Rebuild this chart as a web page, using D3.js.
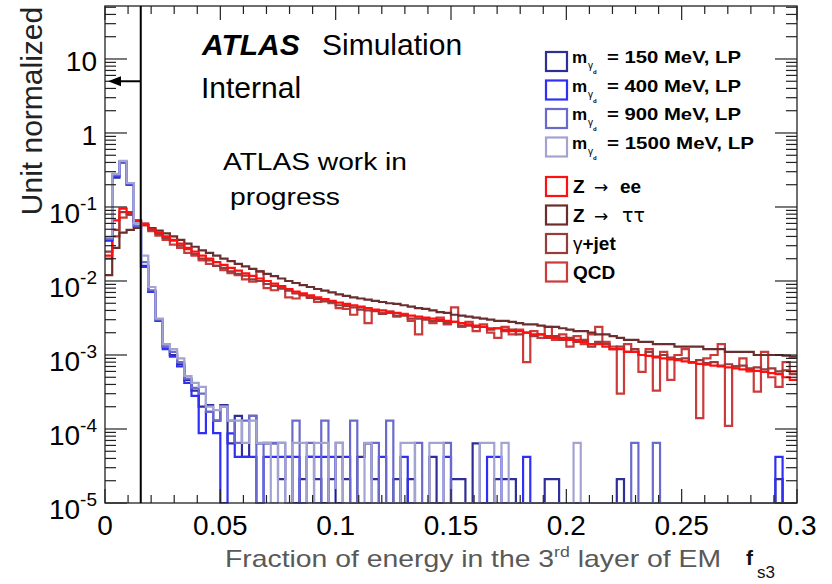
<!DOCTYPE html>
<html>
<head>
<meta charset="utf-8">
<script src="https://cdn.jsdelivr.net/npm/d3@7"></script>
<style>
  body { margin: 0; background: #fff; }
  svg { display: block; }
  text { font-family: "Liberation Sans", Arial, Helvetica, sans-serif; }
</style>
</head>
<body>
<svg id="chart" width="832" height="584"></svg>
<script>
// binning: 96 bins of 0.003125 between 0 and 0.3
const binWidth = 0.003125;

// signal samples (unit normalized), one value per bin
const sig150 = [0.035, 0.25, 0.40, 0.20, 0.055, 0.016, 0.0072, 0.0030, 0.0013, 0.0010, 0.00075, 0.00046, 0.00033, 0.00020, 0.00021, 0.00013,
  2.1e-4, 6.4e-5, 1.5e-4, 4.2e-5, 1.5e-4, 6.4e-5, 6.4e-5, 6.4e-5, 2.1e-5, 4.2e-5, 0, 2.1e-5, 4.2e-5, 2.1e-5, 0, 2.1e-5,
  4.2e-5, 2.1e-5, 0, 4.2e-5, 6.4e-5, 2.1e-5, 0, 0, 2.1e-5, 0, 2.1e-5, 0, 0, 4.2e-5, 0, 0,
  2.1e-5, 2.1e-5, 0, 6.4e-5, 0, 0, 2.1e-5, 2.1e-5, 2.1e-5, 0, 0, 0, 0, 2.1e-5, 2.1e-5, 0,
  0, 0, 0, 0, 0, 0, 0, 2.1e-5, 0, 0, 0, 0, 0, 0, 0, 0,
  0, 0, 0, 0, 0, 0, 0, 0, 0, 0, 0, 0, 0, 2.1e-5, 0, 0];
const sig400 = [0.036, 0.26, 0.40, 0.20, 0.054, 0.0155, 0.0071, 0.0029, 0.0012, 0.00095, 0.0007, 0.00042, 0.00028, 0.000088, 0.00017, 0.000088,
  0, 8.7e-5, 4.2e-5, 4.2e-5, 4.2e-5, 0, 4.2e-5, 4.2e-5, 4.2e-5, 4.2e-5, 4.2e-5, 0, 4.2e-5, 4.2e-5, 4.2e-5, 4.2e-5,
  0, 4.2e-5, 0, 0, 0, 0, 4.2e-5, 0, 0, 4.2e-5, 0, 0, 0, 0, 0, 4.2e-5,
  0, 0, 0, 0, 0, 4.2e-5, 4.2e-5, 0, 0, 0, 4.2e-5, 0, 0, 0, 0, 0,
  0, 0, 0, 0, 0, 0, 0, 0, 0, 0, 0, 0, 0, 0, 0, 0,
  0, 0, 0, 0, 0, 0, 0, 0, 0, 0, 0, 0, 0, 4.2e-5, 0, 0];
const sig900 = [0.037, 0.27, 0.41, 0.21, 0.056, 0.018, 0.0075, 0.0030, 0.0013, 0.0011, 0.0008, 0.00048, 0.00036, 0.00030, 0.00017, 0.00013,
  2.0e-4, 1.3e-4, 6.5e-5, 1.3e-4, 1.5e-4, 0, 6.5e-5, 6.5e-5, 6.5e-5, 0, 1.3e-4, 0, 6.5e-5, 0, 1.3e-4, 0,
  6.5e-5, 0, 1.3e-4, 0, 0, 6.5e-5, 0, 1.3e-4, 0, 0, 0, 6.5e-5, 0, 0, 0, 6.5e-5,
  0, 0, 0, 0, 0, 0, 0, 0, 0, 0, 0, 0, 0, 0, 0, 0,
  0, 0, 0, 0, 0, 0, 0, 0, 0, 6.5e-5, 0, 0, 6.5e-5, 0, 0, 0,
  0, 0, 0, 0, 0, 0, 0, 0, 0, 0, 0, 0, 0, 0, 0, 0];
const sig1500 = [0.039, 0.28, 0.42, 0.21, 0.060, 0.022, 0.0083, 0.0031, 0.0014, 0.0012, 0.0009, 0.00052, 0.00042, 0.00037, 0.00020, 0.00018,
  2.0e-4, 1.3e-4, 1.3e-4, 6.5e-5, 1.3e-4, 6.5e-5, 6.5e-5, 0, 6.5e-5, 0, 6.5e-5, 6.5e-5, 0, 6.5e-5, 6.5e-5, 0,
  6.5e-5, 0, 0, 0, 6.5e-5, 0, 0, 0, 0, 6.5e-5, 6.5e-5, 0, 0, 6.5e-5, 6.5e-5, 0,
  0, 0, 0, 0, 6.5e-5, 6.5e-5, 0, 6.5e-5, 0, 0, 0, 0, 0, 0, 0, 0,
  0, 6.5e-5, 0, 0, 0, 0, 0, 0, 0, 0, 0, 0, 0, 0, 0, 0,
  0, 0, 0, 0, 0, 0, 0, 0, 0, 0, 0, 0, 0, 0, 0, 0];

// background samples
const zee = [0.022, 0.066, 0.095, 0.085, 0.066, 0.057, 0.050, 0.045, 0.040, 0.036, 0.032, 0.028, 0.025, 0.022, 0.020, 0.018,
  0.0165, 0.015, 0.0138, 0.0127, 0.0117, 0.0108, 0.0100, 0.0092, 0.0085, 0.0078, 0.0072, 0.0068, 0.0064, 0.0060, 0.0057, 0.0054,
  0.0051, 0.0049, 0.0047, 0.0045, 0.0043, 0.0041, 0.0040, 0.0038, 0.0037, 0.0035, 0.0034, 0.0033, 0.0032, 0.0031, 0.0030, 0.0029,
  0.0028, 0.0027, 0.0026, 0.0025, 0.0024, 0.0023, 0.0023, 0.0022, 0.0021, 0.0021, 0.0020, 0.0019, 0.0019, 0.0018, 0.0017, 0.0017,
  0.0016, 0.0016, 0.0015, 0.0014, 0.0014, 0.0013, 0.0012, 0.0012, 0.0011, 0.0011, 0.00100, 0.00097, 0.00093, 0.00090, 0.00087, 0.00085,
  0.00082, 0.00079, 0.00076, 0.00074, 0.00072, 0.00070, 0.00068, 0.00066, 0.00064, 0.00063, 0.00061, 0.00059, 0.00057, 0.00055, 0.00050, 0.00046];
const ztautau = [0.012, 0.028, 0.045, 0.049, 0.052, 0.057, 0.052, 0.048, 0.044, 0.040, 0.036, 0.032, 0.029, 0.026, 0.024, 0.022,
  0.020, 0.0185, 0.017, 0.0158, 0.0146, 0.0135, 0.0125, 0.0116, 0.0108, 0.0100, 0.0094, 0.0088, 0.0083, 0.0078, 0.0074, 0.0070,
  0.0066, 0.0063, 0.0060, 0.0058, 0.0056, 0.0054, 0.0052, 0.0050, 0.0049, 0.0047, 0.0045, 0.0043, 0.0042, 0.0040, 0.0038, 0.0037,
  0.0035, 0.0034, 0.0033, 0.0032, 0.0031, 0.0030, 0.0029, 0.0029, 0.0028, 0.0027, 0.0026, 0.0026, 0.0025, 0.0024, 0.0024, 0.0023,
  0.0022, 0.0021, 0.0021, 0.0020, 0.0019, 0.0019, 0.0018, 0.0017, 0.0016, 0.0016, 0.0015, 0.0015, 0.0014, 0.0014, 0.0014, 0.0013,
  0.0013, 0.0013, 0.0013, 0.0012, 0.0012, 0.0012, 0.0011, 0.0011, 0.0011, 0.0011, 0.0010, 0.0010, 0.0010, 0.0010, 0.00098, 0.00095];
const gjet = [0.025, 0.049, 0.085, 0.080, 0.064, 0.058, 0.049, 0.043, 0.038, 0.035, 0.030, 0.027, 0.023, 0.020, 0.019, 0.016,
  0.015, 0.0135, 0.0125, 0.0118, 0.0105, 0.0100, 0.0091, 0.0086, 0.0079, 0.0074, 0.0068, 0.0065, 0.0059, 0.0057, 0.0053, 0.0052,
  0.0047, 0.0046, 0.0044, 0.0041, 0.0040, 0.0039, 0.0036, 0.0037, 0.0034, 0.0034, 0.0031, 0.0031, 0.0030, 0.0029, 0.0029, 0.0027,
  0.0028, 0.0025, 0.0025, 0.0024, 0.0024, 0.0022, 0.0023, 0.0021, 0.0022, 0.0019, 0.0020, 0.0018, 0.0019, 0.0017, 0.0018, 0.0016,
  0.0017, 0.0015, 0.0016, 0.0013, 0.0015, 0.0014, 0.0012, 0.0013, 0.0011, 0.0012, 0.0010, 0.0011, 0.00095, 0.0010, 0.00092, 0.00088,
  0.00090, 0.00080, 0.00085, 0.00078, 0.00080, 0.00072, 0.00075, 0.00070, 0.00072, 0.00066, 0.00068, 0.00064, 0.00066, 0.00060, 0.00062, 0.00055];
const qcd = [0.020, 0.040, 0.072, 0.078, 0.066, 0.060, 0.047, 0.041, 0.036, 0.031, 0.028, 0.024, 0.022, 0.019, 0.017, 0.016,
  0.014, 0.0128, 0.012, 0.0105, 0.0098, 0.0135, 0.0080, 0.0075, 0.0081, 0.0060, 0.0058, 0.0064, 0.0061, 0.0052, 0.0056, 0.0050,
  0.0043, 0.0042, 0.0035, 0.0044, 0.0027, 0.0040, 0.0037, 0.0039, 0.0033, 0.0036, 0.0029, 0.0019, 0.0031, 0.0027, 0.0032, 0.0026,
  0.0044, 0.0024, 0.0028, 0.0021, 0.0026, 0.0020, 0.0017, 0.0024, 0.0019, 0.0022, 0.0008, 0.0021, 0.0017, 0.0024, 0.0016, 0.0019,
  0.0013, 0.0018, 0.0014, 0.0019, 0.0024, 0.0015, 0.0013, 0.00030, 0.0014, 0.0011, 0.00059, 0.0012, 0.00033, 0.0011, 0.00046, 0.0010,
  0.0012, 0.0008, 0.00014, 0.0009, 0.0010, 0.0014, 0.00011, 0.0007, 0.0009, 0.0006, 0.00032, 0.0011, 0.0005, 0.00037, 0.0008, 0.0006];

const xTickLabels = ["0", "0.05", "0.1", "0.15", "0.2", "0.25", "0.3"];
const yDecades = [1e-5, 1e-4, 1e-3, 1e-2, 1e-1, 1, 10];
const cutValue = 0.0155;
const arrowLevel = 5;

const series = [
  {name: "QCD", values: qcd, color: "#cc3a3a"},
  {name: "gjet", values: gjet, color: "#963c3c"},
  {name: "ztautau", values: ztautau, color: "#6a2e2e"},
  {name: "zee", values: zee, color: "#ff1010"},
  {name: "m150", values: sig150, color: "#2e2e96"},
  {name: "m400", values: sig400, color: "#2f2ff5"},
  {name: "m900", values: sig900, color: "#6a6acc"},
  {name: "m1500", values: sig1500, color: "#a3a3d2"}
];

const svg = d3.select("#chart");
const pLeft = 105, pRight = 797, pTop = 6, pBottom = 503;
const x = d3.scaleLinear().domain([0, 0.3]).range([pLeft, pRight]);
const y = d3.scaleLog().domain([1e-5, 52]).range([pBottom, pTop]);

svg.append("clipPath").attr("id", "plotClip")
  .append("rect").attr("x", pLeft).attr("y", pTop - 1)
  .attr("width", pRight - pLeft).attr("height", pBottom - pTop + 1.5);

// histograms
const histG = svg.append("g").attr("clip-path", "url(#plotClip)");
const line = d3.line().x(d => x(d[0])).y(d => y(d[1]));
series.forEach(s => {
  let pts = [];
  s.values.forEach((v, i) => {
    let vv = Math.max(v, 1e-5);
    pts.push([i * binWidth, vv]);
    pts.push([(i + 1) * binWidth, vv]);
  });
  histG.append("path")
    .attr("d", line(pts))
    .attr("fill", "none")
    .attr("stroke", s.color)
    .attr("stroke-width", 2.2);
});

// frame
svg.append("rect").attr("x", pLeft).attr("y", pTop)
  .attr("width", pRight - pLeft).attr("height", pBottom - pTop)
  .attr("fill", "none").attr("stroke", "#222").attr("stroke-width", 1.3);

// x ticks (inward, bottom + top)
const tickG = svg.append("g").attr("stroke", "#222").attr("stroke-width", 1.2);
d3.range(0, 31).forEach(k => {
  let v = k * 0.01;
  let len = (k % 5 === 0) ? 14 : 8;
  tickG.append("line").attr("x1", x(v)).attr("x2", x(v)).attr("y1", pBottom).attr("y2", pBottom - len);
  tickG.append("line").attr("x1", x(v)).attr("x2", x(v)).attr("y1", pTop).attr("y2", pTop + len);
});
// y ticks (log, left + right)
yDecades.concat([100]).forEach(d => {
  for (let m = 1; m <= 9; m++) {
    let v = (m === 1) ? d : d / 10 * m;
    if (v < 1e-5 || v > 52) continue;
    let len = (m === 1) ? 22 : 11;
    tickG.append("line").attr("x1", pLeft).attr("x2", pLeft + len).attr("y1", y(v)).attr("y2", y(v));
    tickG.append("line").attr("x1", pRight).attr("x2", pRight - len).attr("y1", y(v)).attr("y2", y(v));
  }
});

// x tick labels
xTickLabels.forEach((t, i) => {
  svg.append("text").attr("x", x(i * 0.05)).attr("y", 535)
    .attr("text-anchor", "middle").attr("font-size", 28).attr("fill", "#000").text(t);
});

// y tick labels
yDecades.forEach(d => {
  let e = Math.round(Math.log10(d));
  let t = svg.append("text").attr("x", 97).attr("text-anchor", "end")
    .attr("font-size", 28).attr("fill", "#000");
  if (e === 0) { t.attr("y", y(d) + 12).text("1"); }
  else if (e === 1) { t.attr("y", y(d) + 12).text("10"); }
  else {
    t.attr("y", y(d) + 16);
    t.append("tspan").text("10");
    t.append("tspan").attr("font-size", 19).attr("dy", -13).text(e);
  }
});

// axis titles
svg.append("text").attr("transform", "translate(42,111) rotate(-90)")
  .attr("text-anchor", "middle").attr("font-size", 30).attr("fill", "#222")
  .text("Unit normalized");

const xt = svg.append("text").attr("x", 225).attr("y", 567)
  .attr("font-family", "'Open Sans', sans-serif").attr("font-size", 24)
  .attr("textLength", 496).attr("lengthAdjust", "spacingAndGlyphs")
  .attr("fill", "#595959");
xt.append("tspan").text("Fraction of energy in the 3");
xt.append("tspan").attr("font-size", 15).attr("dy", -10).text("rd");
xt.append("tspan").attr("dy", 10).text(" layer of EM");

svg.append("text").attr("x", 746).attr("y", 565).attr("font-size", 21)
  .attr("font-weight", "bold").attr("fill", "#111").text("f");
svg.append("text").attr("x", 757).attr("y", 578).attr("font-size", 17)
  .attr("fill", "#111").text("s3");

// cut line and arrow
svg.append("line").attr("x1", x(cutValue)).attr("x2", x(cutValue))
  .attr("y1", pTop).attr("y2", pBottom).attr("stroke", "#000").attr("stroke-width", 2);
svg.append("line").attr("x1", x(cutValue)).attr("x2", pLeft + 10)
  .attr("y1", y(arrowLevel)).attr("y2", y(arrowLevel)).attr("stroke", "#000").attr("stroke-width", 2);
svg.append("path")
  .attr("d", `M${pLeft + 3},${y(arrowLevel)} L${pLeft + 16},${y(arrowLevel) - 5} L${pLeft + 16},${y(arrowLevel) + 5} Z`)
  .attr("fill", "#000");

// ATLAS labels
const atl = svg.append("text").attr("x", 202).attr("y", 55).attr("font-size", 30).attr("fill", "#000");
atl.append("tspan").attr("font-weight", "bold").attr("font-style", "italic").text("ATLAS");
atl.append("tspan").attr("x", 322).text("Simulation");
svg.append("text").attr("x", 201).attr("y", 98).attr("font-size", 30).attr("fill", "#000").text("Internal");

svg.append("text").attr("x", 223).attr("y", 170)
  .attr("font-family", "'Open Sans', sans-serif").attr("font-size", 23)
  .attr("textLength", 184).attr("lengthAdjust", "spacingAndGlyphs")
  .attr("fill", "#000").text("ATLAS work in");
svg.append("text").attr("x", 230).attr("y", 205)
  .attr("font-family", "'Open Sans', sans-serif").attr("font-size", 23)
  .attr("textLength", 110).attr("lengthAdjust", "spacingAndGlyphs")
  .attr("fill", "#000").text("progress");

// legends
const sigLegend = [
  {mass: "150", color: "#2e2e96"},
  {mass: "400", color: "#2f2ff5"},
  {mass: "900", color: "#6a6acc"},
  {mass: "1500", color: "#a3a3d2"}
];
sigLegend.forEach((d, i) => {
  let yb = 52 + i * 28.5;
  svg.append("rect").attr("x", 546).attr("y", yb).attr("width", 21).attr("height", 19)
    .attr("fill", "#fff").attr("stroke", d.color).attr("stroke-width", 2.2);
  svg.append("text").attr("x", 572).attr("y", yb + 11).attr("font-size", 17)
    .attr("font-weight", "bold").attr("fill", "#000").text("m");
  svg.append("text").attr("x", 588).attr("y", yb + 17).attr("font-size", 10)
    .attr("fill", "#000").text("γ");
  svg.append("text").attr("x", 593).attr("y", yb + 22).attr("font-size", 6)
    .attr("font-weight", "bold").attr("fill", "#000").text("d");
  let lab = "= " + d.mass + " MeV, LP";
  svg.append("text").attr("x", 607).attr("y", yb + 11).attr("font-size", 17)
    .attr("font-weight", "bold").attr("fill", "#000")
    .attr("textLength", d.mass.length > 3 ? 147 : 134).attr("lengthAdjust", "spacingAndGlyphs")
    .text(lab);
});

const bkgLegend = [
  {label: ["Z", "→", "ee"], color: "#ff1010"},
  {label: ["Z", "→", "ττ"], color: "#6a2e2e"},
  {label: ["γ", "+jet"], color: "#963c3c"},
  {label: ["QCD"], color: "#cc3a3a"}
];
bkgLegend.forEach((d, i) => {
  let yb = 177 + i * 28.5;
  svg.append("rect").attr("x", 546).attr("y", yb).attr("width", 21).attr("height", 19)
    .attr("fill", "#fff").attr("stroke", d.color).attr("stroke-width", 2.2);
  let t = svg.append("text").attr("x", 573).attr("y", yb + 16).attr("font-size", 19)
    .attr("fill", "#000");
  if (d.label.length === 3) {
    t.append("tspan").attr("font-weight", "bold").text(d.label[0]);
    t.append("tspan").attr("x", 594).attr("font-family", "'DejaVu Sans', sans-serif")
      .attr("font-size", 17).text(d.label[1]);
    if (d.label[2] === "ee") {
      t.append("tspan").attr("x", 620).attr("font-weight", "bold").text(d.label[2]);
    } else {
      t.append("tspan").attr("x", 622).attr("font-family", "'DejaVu Sans', sans-serif")
        .attr("font-size", 19).text(d.label[2]);
    }
  } else if (d.label.length === 2) {
    t.append("tspan").text(d.label[0]);
    t.append("tspan").attr("font-weight", "bold").text(d.label[1]);
  } else {
    t.attr("font-weight", "bold").text(d.label[0]);
  }
});
</script>
</body>
</html>
